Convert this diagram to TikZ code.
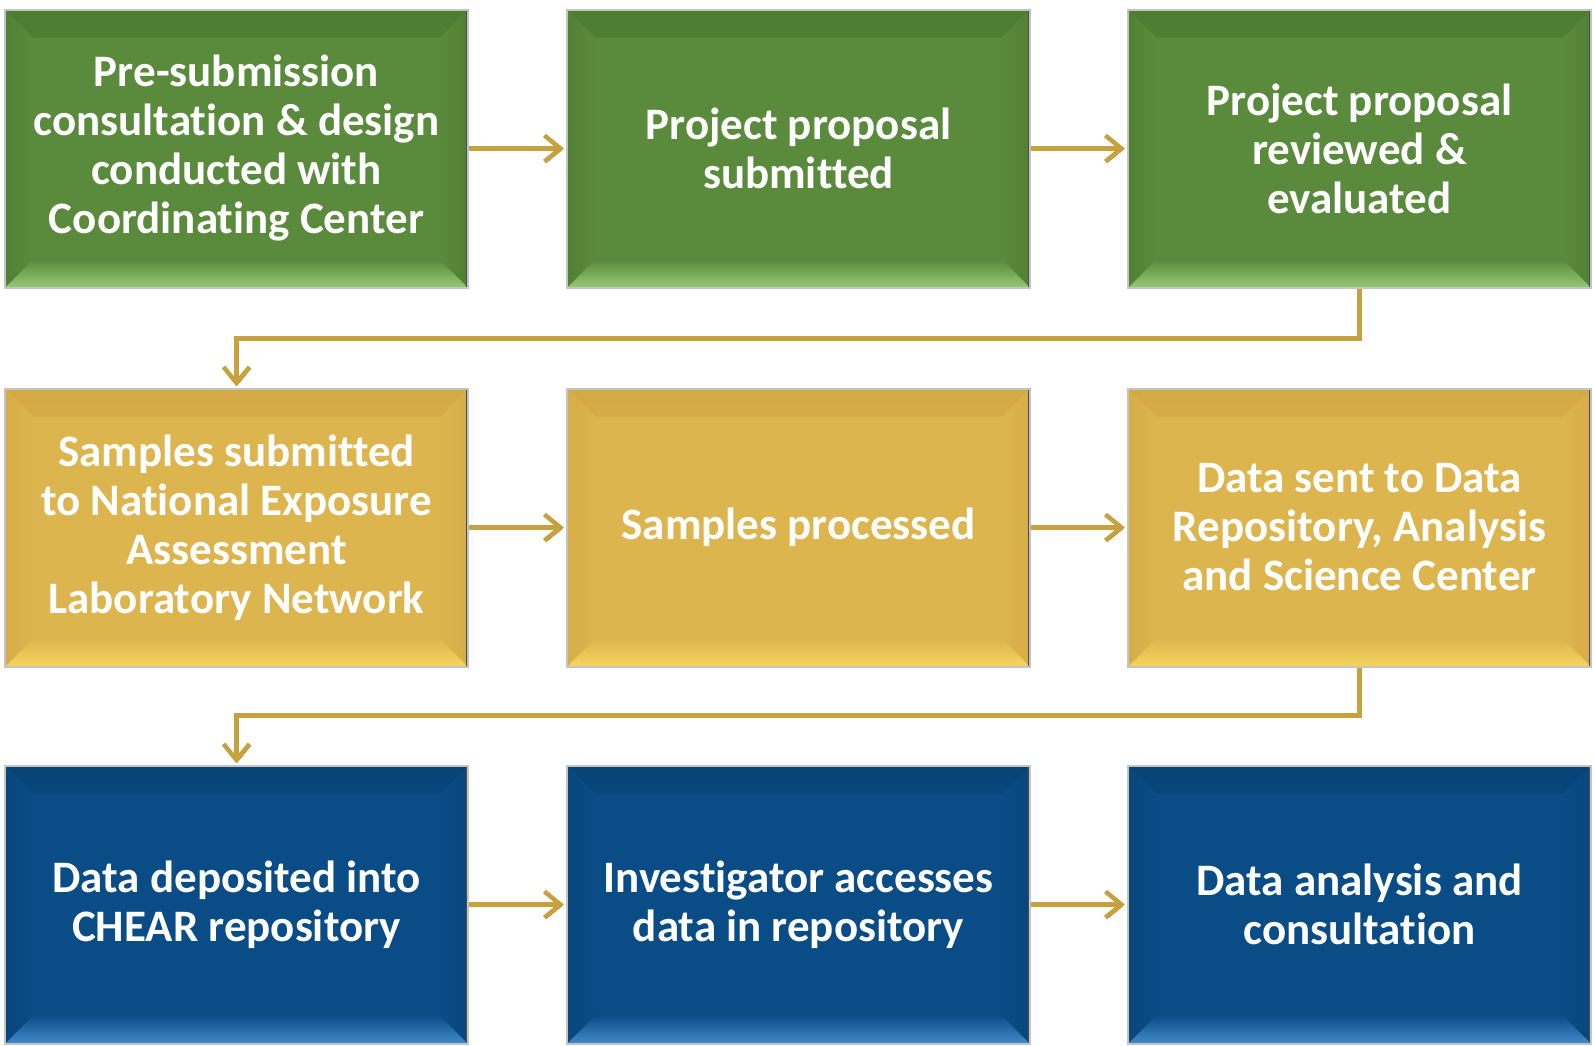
\documentclass[tikz,border=0pt]{standalone}
\usepackage{fontspec}
\setmainfont[Ligatures={NoCommon}]{Carlito}
\usetikzlibrary{arrows.meta}
\definecolor{gmain}{HTML}{5A8A3C}
\definecolor{gtop}{HTML}{4E7C31}
\definecolor{gbot}{HTML}{96C874}
\definecolor{ymain}{HTML}{DDB54F}
\definecolor{ytop}{HTML}{D3AA45}
\definecolor{ybot}{HTML}{F5D660}
\definecolor{bmain}{HTML}{0A4C86}
\definecolor{btop}{HTML}{084478}
\definecolor{bbot}{HTML}{418ACA}
\definecolor{boxedge}{HTML}{C4C4C4}
\definecolor{gold}{HTML}{C6A13E}
\definecolor{goldshadow}{HTML}{6A5420}
\begin{document}
\begin{tikzpicture}[x=1pt,y=-1pt,
  box/.style n args={3}{draw=boxedge, line width=2pt, fill=#1,
    minimum width=463pt, minimum height=278pt, inner sep=0pt,
    text=white, font=\fontsize{45}{49}\selectfont\bfseries, align=center,
    path picture={
      \shade[top color=#2, bottom color=#1]
        (path picture bounding box.north west) -- (path picture bounding box.north east)
        -- ([xshift=-28pt,yshift=-28pt]path picture bounding box.north east)
        -- ([xshift=28pt,yshift=-28pt]path picture bounding box.north west) -- cycle;
      \shade[top color=#1, bottom color=#3]
        (path picture bounding box.south west) -- (path picture bounding box.south east)
        -- ([xshift=-28pt,yshift=28pt]path picture bounding box.south east)
        -- ([xshift=28pt,yshift=28pt]path picture bounding box.south west) -- cycle;
      \shade[left color=#2!70!#1, right color=#1]
        (path picture bounding box.north west)
        -- ([xshift=28pt,yshift=-28pt]path picture bounding box.north west)
        -- ([xshift=28pt,yshift=28pt]path picture bounding box.south west)
        -- (path picture bounding box.south west) -- cycle;
      \shade[left color=#1, right color=#2!70!#1]
        (path picture bounding box.north east)
        -- ([xshift=-28pt,yshift=-28pt]path picture bounding box.north east)
        -- ([xshift=-28pt,yshift=28pt]path picture bounding box.south east)
        -- (path picture bounding box.south east) -- cycle;
      \draw[line width=4pt, black!70] (path picture bounding box.north east) -- (path picture bounding box.south east);
    }},
  gbox/.style={box={gmain}{gtop}{gbot}},
  ybox/.style={box={ymain}{ytop}{ybot}},
  bbox/.style={box={bmain}{btop}{bbot}},
  arr/.style={line width=4.5pt, draw=gold, shorten >=2pt,
    -{Straight Barb[length=16pt,width=26pt]},
    preaction={draw=goldshadow, transform canvas={shift={(1.5pt,-1.5pt)}}}},
  elb/.style={line width=4.5pt, draw=gold, shorten >=1pt,
    -{Straight Barb[length=16pt,width=26pt]},
    preaction={draw=goldshadow, transform canvas={shift={(1.5pt,-1.5pt)}}}}
]
\useasboundingbox (0,0) rectangle (1595,1045);
\node[gbox] (b1) at (236.5,148.5) {Pre-submission\\consultation \& design\\conducted with\\Coordinating Center};
\node[gbox] (b2) at (798.5,148.5) {Project proposal\\submitted};
\node[gbox] (b3) at (1359.5,148.5) {Project proposal\\reviewed \&\\evaluated};
\node[ybox] (b4) at (236.5,527.5) {Samples submitted\\to National Exposure\\Assessment\\Laboratory Network};
\node[ybox] (b5) at (798.5,527.5) {Samples processed};
\node[ybox] (b6) at (1359.5,527.5) {Data sent to Data\\Repository, Analysis\\and Science Center};
\node[bbox] (b7) at (236.5,904.5) {Data deposited into\\CHEAR repository};
\node[bbox] (b8) at (798.5,904.5) {Investigator accesses\\data in repository};
\node[bbox] (b9) at (1359.5,904.5) {Data analysis and\\consultation};
\draw[arr] (b1) -- (b2);
\draw[arr] (b2) -- (b3);
\draw[arr] (b4) -- (b5);
\draw[arr] (b5) -- (b6);
\draw[arr] (b7) -- (b8);
\draw[arr] (b8) -- (b9);
\draw[elb] (b3.south) -- ++(0,50) -| (b4.north);
\draw[elb] (b6.south) -- ++(0,48) -| (b7.north);
\end{tikzpicture}
\end{document}
